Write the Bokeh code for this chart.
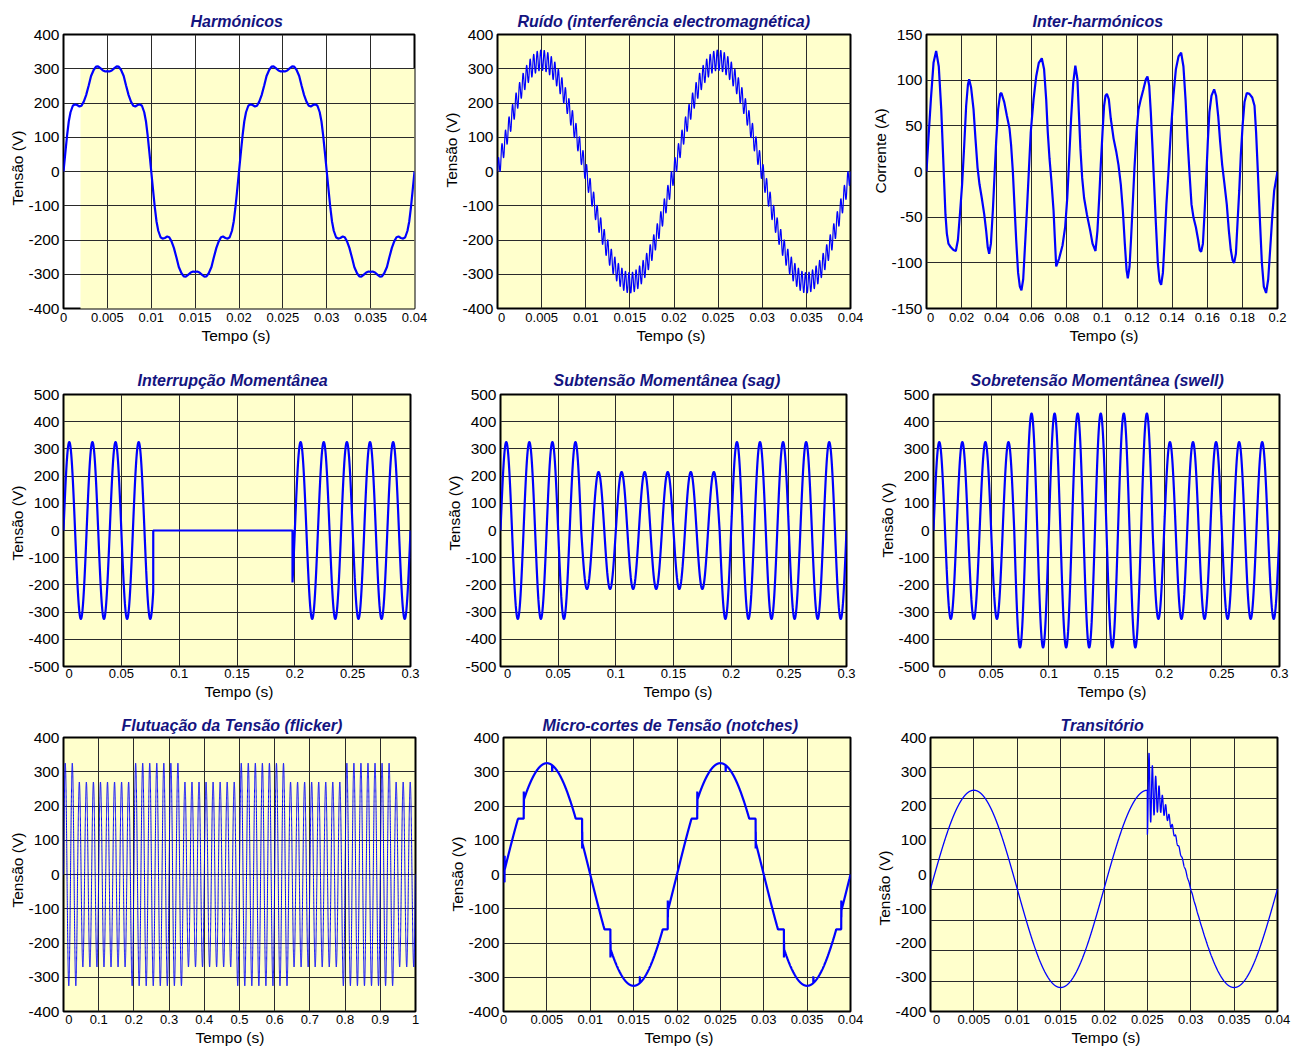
import numpy as np
from bokeh.plotting import figure
from bokeh.layouts import column, row
from bokeh.models import FixedTicker, BoxAnnotation, Range1d, Title
from bokeh.embed import file_html
from bokeh.resources import INLINE

YELLOW = "#FFFFCC"
BLUE = "#0000FF"
NAVY = "#14147F"
GRID = "#2a2a2a"
FONT = "Liberation Sans"

# ------------------------------------------------------------------
# values
# ------------------------------------------------------------------
F0 = 50.0  # Hz fundamental

# 1 Harmonicos: one quarter wave (ms, V), waveform has quarter-wave symmetry
HARM_QUARTER = [(0.0, 0), (0.23, 60), (0.42, 108), (0.6, 146), (0.8, 173), (1.06, 192),
                (1.29, 196), (1.55, 194), (1.82, 190), (2.05, 192), (2.31, 204), (2.58, 223),
                (2.88, 252), (3.14, 279), (3.45, 297), (3.71, 306), (3.94, 307), (4.2, 302),
                (4.5, 295), (4.77, 292), (5.0, 293)]

# 2 Ruido
NOISE_PEAK = 325.0
NOISE_RIPPLE_PEAK = 30.0
NOISE_RIPPLE_HZ = 2500.0

# 3 Inter-harmonicos: current trace (ms, A)
IH_POINTS = [(0.0, 0), (1.1, 36), (2.5, 79), (4.0, 119), (5.5, 132), (7.0, 115), (8.4, 68), (9.3, 25),
             (10.1, -14), (10.8, -47), (11.6, -68), (12.5, -79), (13.9, -83), (15.4, -86), (16.7, -87),
             (17.9, -75), (19.2, -43), (20.3, -14), (21.5, 29), (22.6, 72), (23.6, 95), (24.3, 101),
             (25.4, 92), (26.8, 68), (27.9, 36), (29.1, 4), (30.2, -14), (31.5, -29), (32.9, -47),
             (34.0, -65), (34.9, -83), (35.7, -90), (36.7, -79), (37.8, -43), (38.7, -7), (39.7, 33),
             (40.8, 68), (42.0, 85), (42.7, 86), (44.3, 76), (45.8, 61), (47.3, 47), (48.2, 29),
             (49.2, 0), (50.1, -36), (51.1, -75), (52.2, -111), (53.2, -126), (54.1, -130),
             (55.1, -118), (56.0, -86), (57.2, -43), (58.3, 0), (59.4, 43), (61.0, 79), (62.5, 104),
             (64.0, 119), (65.7, 124), (67.0, 112), (68.2, 79), (69.1, 43), (70.1, 14), (71.2, -11),
             (72.4, -43), (73.1, -72), (73.9, -104), (75.6, -95), (77.5, -81), (79.0, -61),
             (80.2, -29), (81.3, 14), (82.4, 58), (83.6, 97), (84.8, 116), (86.0, 101), (86.8, 65),
             (87.7, 25), (88.7, -7), (89.8, -29), (91.4, -47), (93.3, -65), (94.6, -79), (96.3, -87),
             (97.4, -65), (98.4, -29), (99.3, 7), (100.3, 43), (101.2, 72), (102.0, 83), (102.8, 85),
             (103.9, 79), (105.0, 58), (106.6, 36), (108.1, 22), (109.4, 7), (110.7, -14),
             (111.9, -43), (113.0, -79), (114.0, -108), (114.7, -117), (115.7, -104), (116.6, -72),
             (117.6, -32), (118.5, 4), (119.7, 43), (120.8, 68), (122.1, 79), (123.6, 90),
             (125.0, 101), (125.9, 104), (126.9, 94), (127.8, 65), (128.8, 25), (129.7, -14),
             (130.7, -57), (131.8, -100), (132.8, -120), (133.7, -124), (134.7, -111), (135.6, -79),
             (136.7, -36), (137.9, 0), (139.2, 43), (140.7, 83), (142.1, 112), (143.6, 126),
             (145.1, 130), (146.4, 115), (147.6, 79), (148.7, 36), (149.9, -3), (151.0, -36),
             (152.1, -50), (153.5, -61), (154.8, -75), (155.7, -86), (156.5, -88), (157.5, -79),
             (158.4, -47), (159.4, -7), (160.3, 33), (161.2, 65), (162.4, 83), (163.9, 90),
             (165.0, 83), (166.2, 61), (167.3, 33), (168.5, 7), (169.8, -14), (171.1, -36),
             (172.3, -65), (173.4, -86), (174.4, -97), (175.3, -100), (176.3, -90), (177.2, -57),
             (178.2, -21), (179.1, 18), (180.1, 50), (181.2, 76), (182.5, 86), (184.0, 85),
             (185.6, 81), (186.9, 72), (187.8, 43), (188.8, 0), (189.9, -50), (191.1, -100),
             (192.2, -126), (193.5, -133), (194.7, -118), (195.8, -86), (197.0, -50), (198.1, -21),
             (200.0, 0)]

# 4 Interrupcao momentanea
INT_PEAK = 325.0
INT_WINDOW = [0.0776, 0.198]  # s, voltage is zero inside

# 5 / 6 sag and swell: peak of each 10 ms half cycle (30 half cycles over 0.3 s)
SAG_HALF_PEAKS = [325] * 7 + [215] * 12 + [325] * 11
SWELL_HALF_PEAKS = [325] * 7 + [430] * 12 + [325] * 11

# 7 Flicker: amplitude steps
FLICKER_EDGES = [0.0, 0.04, 0.19, 0.34, 0.49, 0.64, 0.79, 0.94, 1.0]
FLICKER_PEAKS = [325, 270, 325, 270, 325, 270, 325, 270]

# 8 Notches (times inside each 20 ms cycle)
NOTCH_PEAK = 325.0
NOTCH_START_MS = [1.67, 8.33, 11.64, 18.36]
NOTCH_END_MS = [2.34, 9.07, 12.33, 18.94]
NOTCH_LEVEL = [163, 163, -160, -160]
NOTCH_KICK = [(242, 191), (76, 125), (-242, -195), (-76, -125)]
MINI_NOTCH_MS = [5.61, 15.72]
MINI_NOTCH_DIP = [-18, 18]
START_KICK = (0.12, -23, 55)  # ms, V, V

# 9 Transitorio
TR_PEAK = 288.0
TR_OFFSET = -42.0
TR_START = 0.025
TR_RING = 130.0
TR_RING_HZ = 2600.0
TR_RING_TAU = 0.0011

TITLES = ["Harmónicos", "Ruído (interferência electromagnética)", "Inter-harmónicos",
          "Interrupção Momentânea", "Subtensão Momentânea (sag)", "Sobretensão Momentânea (swell)",
          "Flutuação da Tensão (flicker)", "Micro-cortes de Tensão (notches)", "Transitório"]
YLABELS = ["Tensão (V)", "Tensão (V)", "Corrente (A)"] + ["Tensão (V)"] * 6
XLABEL = "Tempo (s)"

X_TICKS_004 = [0, 0.005, 0.01, 0.015, 0.02, 0.025, 0.03, 0.035, 0.04]
X_LABELS_004 = ["0", "0.005", "0.01", "0.015", "0.02", "0.025", "0.03", "0.035", "0.04"]
X_TICKS_02 = [0, 0.02, 0.04, 0.06, 0.08, 0.1, 0.12, 0.14, 0.16, 0.18, 0.2]
X_LABELS_02 = ["0", "0.02", "0.04", "0.06", "0.08", "0.1", "0.12", "0.14", "0.16", "0.18", "0.2"]
X_TICKS_03 = [0, 0.05, 0.1, 0.15, 0.2, 0.25, 0.3]
X_LABELS_03 = ["0", "0.05", "0.1", "0.15", "0.2", "0.25", "0.3"]
X_TICKS_1 = [0, 0.1, 0.2, 0.3, 0.4, 0.5, 0.6, 0.7, 0.8, 0.9, 1]
X_LABELS_1 = ["0", "0.1", "0.2", "0.3", "0.4", "0.5", "0.6", "0.7", "0.8", "0.9", "1"]
Y_TICKS_400 = [-400, -300, -200, -100, 0, 100, 200, 300, 400]
Y_LABELS_400 = ["-400", "-300", "-200", "-100", "0", "100", "200", "300", "400"]
Y_TICKS_500 = [-500, -400, -300, -200, -100, 0, 100, 200, 300, 400, 500]
Y_LABELS_500 = ["-500", "-400", "-300", "-200", "-100", "0", "100", "200", "300", "400", "500"]
Y_TICKS_150 = [-150, -100, -50, 0, 50, 100, 150]
Y_LABELS_150 = ["-150", "-100", "-50", "0", "50", "100", "150"]

# ------------------------------------------------------------------
# layout (page pixels)
# ------------------------------------------------------------------
COL_X = [0, 436, 866]
COL_W = [436, 430, 436]
ROW_Y = [0, 352, 707]
ROW_H = [352, 355, 343]
FRAMES = [(63, 34, 414, 311), (497, 31, 850, 308), (926, 34, 1277, 313),
          (63, 394, 410, 668), (500, 391, 846, 666), (933, 394, 1279, 669),
          (63, 734, 415, 1011), (503, 737, 850, 1011), (930, 736, 1277, 1011)]
TITLE_OFFSET = [127, 20, 106, 74, 53, 37, 58, 39, 130]
XLABEL_OFFSET = [138, 139, 143, 141, 143, 144, 132, 141, 141]
YLABEL_OFFSET = [103, 121, 115, 106, 116, 109, 104, 100, 86]
ZERO_SHIFT_PX = [0, 4, 4, 5.6, 7, 8.7, 5.3, 0, 6]
TITLE_STANDOFF = [10, 12, 8]
TITLE_LINE_H = [1.0, 1.0, 0.8]
TICK_STANDOFF = [4, 2, 3]


def sine(t, f=F0):
    return np.sin(2 * np.pi * f * t)


# ------------------------------------------------------------------
# waveforms
# ------------------------------------------------------------------
q_t = np.array([p[0] for p in HARM_QUARTER]) / 1000.0
q_v = np.array([p[1] for p in HARM_QUARTER], dtype=float)
half_t = np.concatenate([q_t, 0.01 - q_t[::-1][1:]])
half_v = np.concatenate([q_v, q_v[::-1][1:]])
cyc_t = np.concatenate([half_t, 0.01 + half_t[1:]])
cyc_v = np.concatenate([half_v, -half_v[1:]])
w1_t = np.concatenate([cyc_t, 0.02 + cyc_t[1:]])
w1_v = np.concatenate([cyc_v, cyc_v[1:]])

w2_t = np.arange(0, 0.04 + 1e-9, 1e-5)
w2_v = NOISE_PEAK * sine(w2_t) + NOISE_RIPPLE_PEAK * sine(w2_t, NOISE_RIPPLE_HZ)

w3_t = np.array([p[0] for p in IH_POINTS]) / 1000.0
w3_v = np.array([p[1] for p in IH_POINTS], dtype=float)

w4_t = np.arange(0, 0.3 + 1e-9, 2e-5)
w4_v = INT_PEAK * sine(w4_t)
w4_v[(w4_t >= INT_WINDOW[0]) & (w4_t < INT_WINDOW[1])] = 0.0


def half_cycle_wave(t, peaks):
    idx = np.minimum((t / 0.01 + 1e-9).astype(int), len(peaks) - 1)
    return np.array(peaks, dtype=float)[idx] * sine(t)


w5_t = np.arange(0, 0.3 + 1e-9, 2e-5)
w5_v = half_cycle_wave(w5_t, SAG_HALF_PEAKS)
w6_t = w5_t
w6_v = half_cycle_wave(w6_t, SWELL_HALF_PEAKS)

w7_t = np.arange(0, 1.0 + 1e-9, 5e-5)
seg = np.clip(np.searchsorted(FLICKER_EDGES, w7_t, side="right") - 1, 0, len(FLICKER_PEAKS) - 1)
w7_v = np.array(FLICKER_PEAKS, dtype=float)[seg] * sine(w7_t)

dt8 = 1e-5
w8_t = np.arange(0, 0.04 + 1e-9, dt8)
w8_v = NOTCH_PEAK * sine(w8_t)
for c in range(2):
    base = c * 0.02
    for s, e, lev, kick in zip(NOTCH_START_MS, NOTCH_END_MS, NOTCH_LEVEL, NOTCH_KICK):
        ts, te = base + s / 1000.0, base + e / 1000.0
        w8_v[(w8_t >= ts) & (w8_t < te)] = lev
        i = int(np.searchsorted(w8_t, te))
        w8_v[i] = kick[0]
        w8_v[i + 1] = kick[1]
    for m, d in zip(MINI_NOTCH_MS, MINI_NOTCH_DIP):
        i = int(np.searchsorted(w8_t, base + m / 1000.0))
        w8_v[i:i + 2] += d
i0 = int(np.searchsorted(w8_t, START_KICK[0] / 1000.0))
w8_v[i0] = START_KICK[1]
w8_v[i0 + 1] = START_KICK[2]

w9_t = np.arange(0, 0.04 + 1e-9, 1e-5)
w9_v = TR_OFFSET + TR_PEAK * sine(w9_t)
after = w9_t >= TR_START
dtr = w9_t[after] - TR_START
w9_v[after] += -TR_RING * np.exp(-dtr / TR_RING_TAU) * np.cos(2 * np.pi * TR_RING_HZ * dtr)


# ------------------------------------------------------------------
# panels
# ------------------------------------------------------------------
def build(i, t, v, lw, xr, yr, xticks, xlabels, yticks, ylabels, bg=YELLOW, ygrid_ticks=None):
    L, T, R, B = FRAMES[i]
    c, r = i % 3, i // 3
    ox, oy = COL_X[c], ROW_Y[r]
    fl, ft, fw, fh = L - ox, T - oy, R - L, B - T
    fr = COL_W[c] - fl - fw
    fb = ROW_H[r] - ft - fh
    p = figure(width=COL_W[c], height=ROW_H[r], min_border_left=fl, min_border_top=ft,
               min_border_right=fr, min_border_bottom=fb,
               x_range=Range1d(*xr), y_range=Range1d(*yr), title=TITLES[i],
               output_backend="svg", toolbar_location=None,
               background_fill_color=bg, border_fill_color="white")
    p.title.align = "left"
    p.title.offset = TITLE_OFFSET[i]
    p.title.standoff = TITLE_STANDOFF[r]
    p.title.text_font = FONT
    p.title.text_font_style = "bold italic"
    p.title.text_font_size = "16px"
    p.title.text_color = NAVY
    p.title.text_line_height = TITLE_LINE_H[r]

    p.outline_line_color = "black"
    p.outline_line_width = 2

    zero_tick = float(ZERO_SHIFT_PX[i]) / fw * (xr[1] - xr[0]) + xr[0]
    axis_xticks = [zero_tick] + list(xticks[1:])
    xo = {tk: lb for tk, lb in zip(axis_xticks, xlabels)}
    p.xaxis.ticker = FixedTicker(ticks=axis_xticks)
    p.xaxis.major_label_overrides = xo
    p.xgrid.ticker = FixedTicker(ticks=xticks)
    p.yaxis.ticker = FixedTicker(ticks=yticks)
    p.yaxis.major_label_overrides = {tk: lb for tk, lb in zip(yticks, ylabels)}
    for ax in (p.xaxis[0], p.yaxis[0]):
        ax.axis_line_color = None
        ax.major_tick_line_color = None
        ax.minor_tick_line_color = None
        ax.major_tick_out = 0
        ax.major_tick_in = 0
        ax.minor_tick_out = 0
        ax.major_label_text_font = FONT
        ax.major_label_text_color = "black"
    p.xaxis.major_label_text_line_height = 0.8
    p.yaxis.major_label_text_line_height = 1.0
    p.xaxis.major_label_text_font_size = "13px"
    p.yaxis.major_label_text_font_size = "15.5px"
    p.xaxis.major_label_standoff = TICK_STANDOFF[r]
    p.yaxis.major_label_standoff = 4
    p.grid.grid_line_color = GRID
    p.grid.grid_line_width = 1
    if ygrid_ticks is not None:
        p.ygrid.ticker = FixedTicker(ticks=ygrid_ticks)

    p.line(t, v, line_color=BLUE, line_width=lw)

    p.add_layout(Title(text=XLABEL, align="left", offset=XLABEL_OFFSET[i], standoff=0,
                       text_font=FONT, text_font_size="15.5px", text_font_style="normal",
                       text_color="black", text_line_height=0.8), "below")
    p.add_layout(Title(text=YLABELS[i], align="left", offset=YLABEL_OFFSET[i], standoff=0,
                       text_font=FONT, text_font_size="15.5px", text_font_style="normal",
                       text_color="black", text_line_height=1.0), "left")
    return p


p1 = build(0, w1_t, w1_v, 2.2, (0, 0.04), (-400, 400), X_TICKS_004, X_LABELS_004,
           Y_TICKS_400, Y_LABELS_400, bg="white")
box = BoxAnnotation(left=80, right=431, top=68, bottom=347,
                    left_units="canvas", right_units="canvas", top_units="canvas",
                    bottom_units="canvas", fill_color=YELLOW, fill_alpha=1.0,
                    line_color=None, level="image")
p1.add_layout(box)

p2 = build(1, w2_t, w2_v, 1.2, (0, 0.04), (-400, 400), X_TICKS_004, X_LABELS_004,
           Y_TICKS_400, Y_LABELS_400)
p3 = build(2, w3_t, w3_v, 2.2, (0, 0.2), (-150, 150), X_TICKS_02, X_LABELS_02,
           Y_TICKS_150, Y_LABELS_150)
p4 = build(3, w4_t, w4_v, 2.2, (0, 0.3), (-500, 500), X_TICKS_03, X_LABELS_03,
           Y_TICKS_500, Y_LABELS_500)
p5 = build(4, w5_t, w5_v, 2.2, (0, 0.3), (-500, 500), X_TICKS_03, X_LABELS_03,
           Y_TICKS_500, Y_LABELS_500)
p6 = build(5, w6_t, w6_v, 2.2, (0, 0.3), (-500, 500), X_TICKS_03, X_LABELS_03,
           Y_TICKS_500, Y_LABELS_500)
p7 = build(6, w7_t, w7_v, 1.0, (0, 1), (-400, 400), X_TICKS_1, X_LABELS_1,
           Y_TICKS_400, Y_LABELS_400)
p8 = build(7, w8_t, w8_v, 2.2, (0, 0.04), (-400, 400), X_TICKS_004, X_LABELS_004,
           Y_TICKS_400, Y_LABELS_400)
grid9 = [400 - k * 800 / 9 for k in range(1, 9)]
p9 = build(8, w9_t, w9_v, 1.3, (0, 0.04), (-400, 400), X_TICKS_004, X_LABELS_004,
           Y_TICKS_400, Y_LABELS_400, ygrid_ticks=grid9)

layout = column(row(p1, p2, p3), row(p4, p5, p6), row(p7, p8, p9))
open("out.html", "w").write(file_html(layout, INLINE))
